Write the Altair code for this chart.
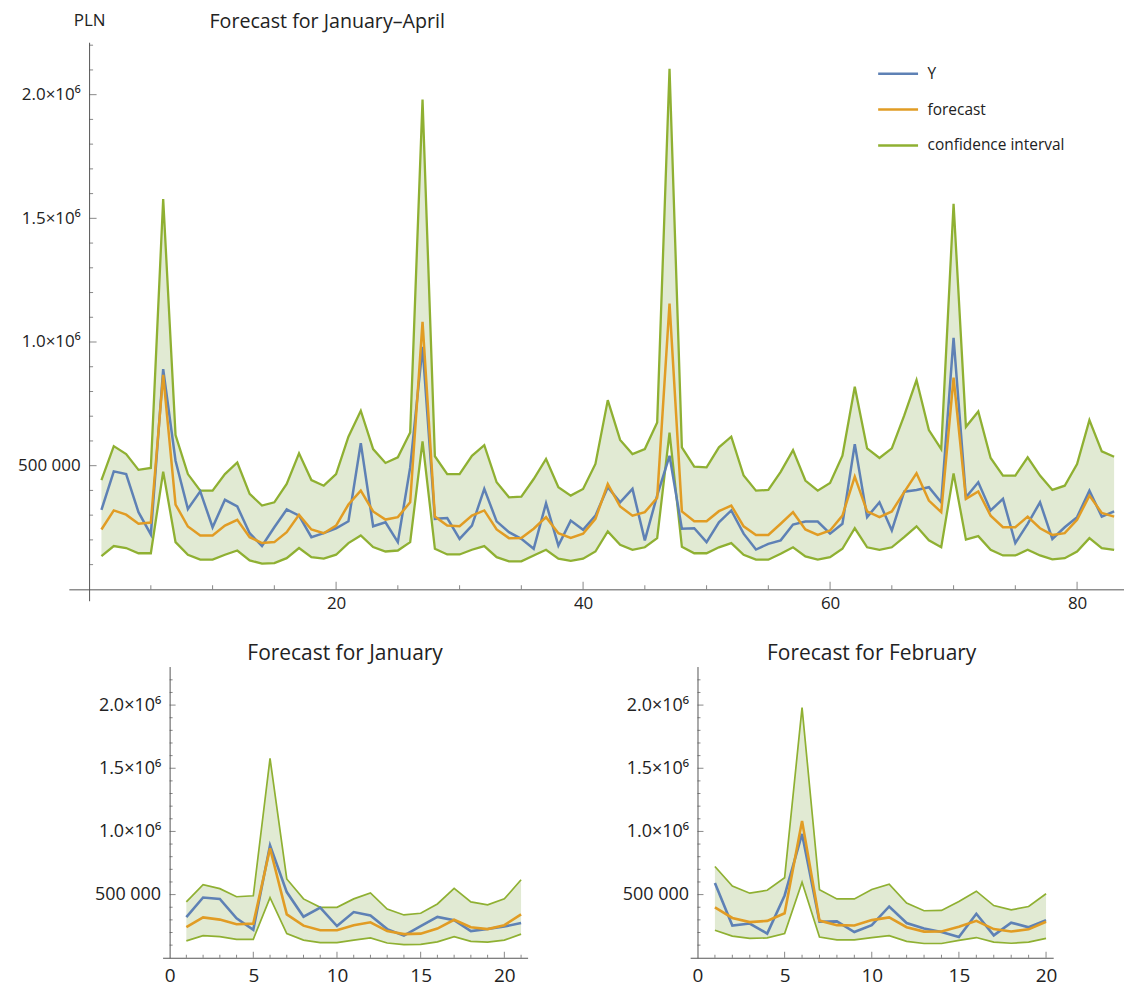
import altair as alt
import pandas as pd

# ---------------- data ----------------
Y = [321000, 477000, 466000, 312000, 222000, 890000, 520000, 325000, 396000, 251000,
     362000, 335000, 227000, 175000, 251000, 323000, 298000, 211000, 227000, 247000,
     275000, 591000, 255000, 271000, 191000, 493000, 980000, 285000, 288000, 204000,
     258000, 406000, 275000, 231000, 204000, 164000, 348000, 177000, 278000, 241000,
     298000, 413000, 352000, 406000, 198000, 380000, 540000, 245000, 247000, 191000,
     271000, 319000, 225000, 161000, 184000, 198000, 262000, 274000, 274000, 225000,
     265000, 587000, 292000, 352000, 238000, 395000, 402000, 413000, 352000, 1017000,
     372000, 433000, 319000, 366000, 187000, 265000, 352000, 204000, 251000, 292000,
     399000, 294000, 315000]

forecast = [242000, 319000, 302000, 265000, 270000, 867000, 343000, 254000, 218000, 218000,
            258000, 281000, 211000, 187000, 191000, 231000, 301000, 242000, 227000, 258000,
            343000, 399000, 315000, 282000, 292000, 352000, 1082000, 294000, 258000, 255000,
            298000, 319000, 242000, 207000, 208000, 245000, 292000, 227000, 208000, 225000,
            285000, 426000, 335000, 298000, 312000, 370000, 1155000, 315000, 275000, 275000,
            316000, 339000, 255000, 220000, 220000, 265000, 312000, 242000, 220000, 238000,
            298000, 456000, 315000, 292000, 315000, 393000, 469000, 359000, 312000, 856000,
            366000, 396000, 298000, 251000, 251000, 294000, 247000, 220000, 227000, 281000,
            379000, 309000, 294000]

upper = [442000, 579000, 547000, 483000, 491000, 1578000, 624000, 466000, 399000, 399000,
         466000, 513000, 386000, 339000, 352000, 426000, 550000, 442000, 419000, 466000,
         617000, 722000, 567000, 511000, 534000, 634000, 1980000, 538000, 466000, 466000,
         540000, 583000, 433000, 372000, 375000, 446000, 527000, 413000, 379000, 406000,
         507000, 765000, 604000, 547000, 567000, 675000, 2105000, 574000, 496000, 493000,
         574000, 617000, 460000, 399000, 402000, 475000, 563000, 440000, 399000, 430000,
         540000, 819000, 570000, 531000, 570000, 702000, 846000, 644000, 567000, 1559000,
         657000, 719000, 531000, 460000, 460000, 534000, 460000, 402000, 419000, 507000,
         684000, 558000, 536000]

lower = [134000, 175000, 167000, 146000, 146000, 476000, 191000, 140000, 120000, 120000,
         140000, 157000, 117000, 104000, 106000, 126000, 167000, 130000, 124000, 140000,
         187000, 218000, 171000, 153000, 157000, 191000, 598000, 164000, 141000, 141000,
         160000, 175000, 130000, 113000, 113000, 137000, 160000, 124000, 115000, 124000,
         153000, 234000, 180000, 160000, 170000, 207000, 634000, 172000, 146000, 146000,
         170000, 187000, 140000, 120000, 120000, 144000, 170000, 133000, 120000, 130000,
         164000, 247000, 170000, 160000, 170000, 211000, 255000, 198000, 170000, 469000,
         201000, 215000, 160000, 137000, 137000, 160000, 137000, 121000, 126000, 153000,
         207000, 167000, 160000]

series_names = ["Y", "forecast", "confidence interval"]
series_colors = ["#5E81B5", "#E19C24", "#8FB032"]
band_color = "#E1EAD3"

jan_range = (0, 21)   # points 1-21
feb_range = (21, 41)  # points 22-41

top_x_labels = [20, 40, 60, 80]
top_x_minor = [v for v in range(5, 84, 5) if v % 20 != 0]
bottom_x_labels = [0, 5, 10, 15, 20]
y_labels = [500000, 1000000, 1500000, 2000000]
y_minor = [v * 100000 for v in range(1, 23) if v % 5 != 0]

FONT = "Open Sans"
AXIS_COLOR = "#555555"
TEXT_COLOR = "#222222"


def make_panel(lo, hi, x_dom, y_dom, width, height, x_labels, x_major_ticks, x_minor_ticks,
               major_len, minor_len, show_legend, line_w, ci_w, x_label_size, y_label_size,
               x_label_pad, title_params, y_title=None):
    xs = list(range(1, hi - lo + 1))
    wide = pd.DataFrame({"x": xs, "lower": lower[lo:hi], "upper": upper[lo:hi]})
    rows = []
    for name, vals, bound in [("Y", Y, "Y"), ("forecast", forecast, "forecast"),
                              ("confidence interval", upper, "upper"),
                              ("confidence interval", lower, "lower")]:
        for xi, v in zip(xs, vals[lo:hi]):
            rows.append({"x": xi, "y": v, "series": name, "bound": bound})
    long = pd.DataFrame(rows)

    x_scale = alt.Scale(domain=x_dom, nice=False, zero=False)
    y_scale = alt.Scale(domain=y_dom, nice=False, zero=False)
    # axes cross at the origin, as in the reference
    y_axis_off = -(0 - x_dom[0]) / (x_dom[1] - x_dom[0]) * width
    x_axis_off = -(0 - y_dom[0]) / (y_dom[1] - y_dom[0]) * height

    x_axis = alt.Axis(values=x_labels, title=None, offset=x_axis_off, ticks=False, grid=False,
                      labelPadding=x_label_pad, labelFontSize=x_label_size, format="d")
    yaxis_kw = dict(values=y_labels, ticks=False, grid=False, offset=y_axis_off, labelPadding=9,
                    labelFontSize=y_label_size,
                    labelExpr="datum.value == 500000 ? '500 000' : format(datum.value/1000000, '.1f') + '×10⁶'")
    if y_title:
        yaxis_kw.update(title=y_title, titleAngle=0, titleAlign="center", titleBaseline="alphabetic",
                        titleX=0, titleY=-17, titleFont=FONT, titleFontSize=17,
                        titleFontWeight="normal", titleColor=TEXT_COLOR)
    else:
        yaxis_kw.update(title=None)
    y_axis = alt.Axis(**yaxis_kw)

    def X(field="x"):
        return alt.X(field, type="quantitative", scale=x_scale, axis=x_axis)

    def Yc(field="y"):
        return alt.Y(field, type="quantitative", scale=y_scale, axis=y_axis)

    if show_legend:
        legend = alt.Legend(title=None, orient="none", legendX=810, legendY=10,
                            symbolType="stroke", symbolSize=1600, symbolStrokeWidth=2.5,
                            labelFont=FONT, labelFontSize=15.5, labelColor=TEXT_COLOR,
                            labelOffset=8, rowPadding=6)
    else:
        legend = None
    color = alt.Color("series:N", scale=alt.Scale(domain=series_names, range=series_colors),
                      legend=legend)

    band = alt.Chart(wide).mark_area(color=band_color, opacity=1).encode(
        x=X(), y=Yc("lower"), y2="upper")
    ci = alt.Chart(long).transform_filter(alt.datum.series == "confidence interval").mark_line(
        strokeWidth=ci_w).encode(x=X(), y=Yc(), color=color, detail="bound:N")
    yl = alt.Chart(long).transform_filter(alt.datum.series == "Y").mark_line(
        strokeWidth=line_w).encode(x=X(), y=Yc(), color=color)
    fl = alt.Chart(long).transform_filter(alt.datum.series == "forecast").mark_line(
        strokeWidth=line_w).encode(x=X(), y=Yc(), color=color)

    # inward tick marks (Mathematica style)
    x0 = alt.XDatum(0, type="quantitative", scale=x_scale, axis=x_axis)
    y0 = alt.YDatum(0, type="quantitative", scale=y_scale, axis=y_axis)
    xt_major = pd.DataFrame({"x": x_major_ticks})
    xt_minor = pd.DataFrame({"x": x_minor_ticks})
    yt_major = pd.DataFrame({"y": y_labels})
    yt_minor = pd.DataFrame({"y": y_minor})
    xticks_major = alt.Chart(xt_major).mark_tick(
        orient="vertical", size=major_len, thickness=1, color=AXIS_COLOR,
        yOffset=-major_len / 2).encode(x=X(), y=y0)
    xticks_minor = alt.Chart(xt_minor).mark_tick(
        orient="vertical", size=minor_len, thickness=1, color=AXIS_COLOR,
        yOffset=-minor_len / 2).encode(x=X(), y=y0)
    yticks_major = alt.Chart(yt_major).mark_tick(
        orient="horizontal", size=major_len, thickness=1, color=AXIS_COLOR,
        xOffset=major_len / 2).encode(y=Yc(), x=x0)
    yticks_minor = alt.Chart(yt_minor).mark_tick(
        orient="horizontal", size=minor_len, thickness=1, color=AXIS_COLOR,
        xOffset=minor_len / 2).encode(y=Yc(), x=x0)

    ch = alt.layer(band, ci, yl, fl, xticks_major, xticks_minor, yticks_major, yticks_minor)
    return ch.properties(width=width, height=height, title=title_params)


top = make_panel(0, 83, [-1.64, 83.8], [-46000, 2212000], 1058, 560,
                 top_x_labels, top_x_labels, top_x_minor, 7.5, 4,
                 True, 2.5, 2.3, 17, 17, 6,
                 alt.TitleParams("Forecast for January–April", anchor="start", frame="group",
                                 dx=141, offset=-20, fontSize=19.7),
                 y_title="PLN")

jan = make_panel(jan_range[0], jan_range[1], [-0.42, 21.39], [0, 2305000], 366, 292,
                 bottom_x_labels, bottom_x_labels[1:],
                 [v for v in range(1, 22) if v % 5 != 0], 6, 3,
                 False, 2.6, 1.7, 19, 18, 9,
                 alt.TitleParams("Forecast for January", anchor="middle", frame="group",
                                 offset=3, fontSize=21))
feb = make_panel(feb_range[0], feb_range[1], [-0.42, 20.41], [0, 2305000], 364, 292,
                 bottom_x_labels, bottom_x_labels[1:],
                 [v for v in range(1, 21) if v % 5 != 0], 6, 3,
                 False, 2.6, 1.7, 19, 18, 9,
                 alt.TitleParams("Forecast for February", anchor="middle", frame="group",
                                 offset=3, fontSize=21))

# empty, invisible cell that indents the lower row
spacer = alt.Chart(pd.DataFrame({"x": [0]})).mark_point(opacity=0).properties(width=25, height=292)

pair = alt.hconcat(jan, feb, spacing=94).resolve_scale(
    x="independent", y="independent", color="independent").resolve_legend(color="independent")
bottom = alt.hconcat(spacer, pair, spacing=0)

chart = alt.vconcat(top, bottom, spacing=31).resolve_scale(
    x="independent", y="independent", color="independent").resolve_legend(
    color="independent").properties(
    padding={"left": 9, "top": 2, "right": 0, "bottom": 0}, background="white"
).configure_view(stroke=None).configure_axis(
    labelFont=FONT, labelColor=TEXT_COLOR,
    domainColor=AXIS_COLOR, domainWidth=1
).configure_title(
    font=FONT, fontWeight="normal", color=TEXT_COLOR
)

chart.save("out.html", embed_options={"renderer": "svg", "actions": False})
